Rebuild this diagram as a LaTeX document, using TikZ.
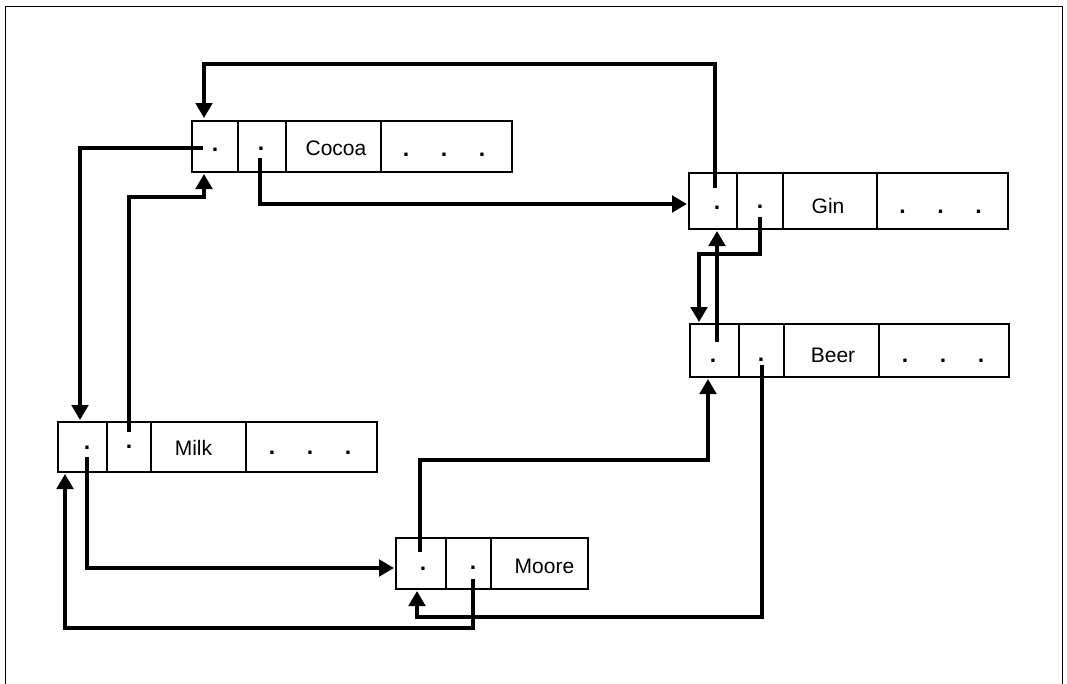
\documentclass[tikz,border=0pt]{standalone}
\usepackage{fontspec}
\setmainfont{Liberation Sans}
\usetikzlibrary{arrows.meta}
\begin{document}
\begin{tikzpicture}[x=1pt,y=-1pt,
  cell/.style={draw,line width=1.9pt,inner sep=0pt,outer sep=0pt},
  link/.style={line width=3.5pt,-{Triangle[length=15pt,width=16.5pt]}},
  lbl/.style={inner sep=0pt,font=\fontsize{21}{24}\selectfont},
  dotmark/.style={inner sep=0pt,anchor=base,font=\fontsize{23}{24}\selectfont\bfseries}]
\useasboundingbox (0,0) rectangle (1067,683);
\draw[line width=1.4pt] (5.5,700) -- (5.5,6.5) -- (1062.5,6.5) -- (1062.5,700);
% Cocoa
\node[cell,minimum width=46pt,minimum height=51pt] (c1) at (215,146.5) {};
\node[cell,minimum width=48pt,minimum height=51pt] (c2) at (262,146.5) {};
\node[cell,minimum width=95pt,minimum height=51pt] (c3) at (333.5,146.5) {};
\node[cell,minimum width=131pt,minimum height=51pt] (c4) at (446.5,146.5) {};
\node[lbl] (cl) at (336,148.5) {Cocoa};
\node[dotmark] (c1d) at (215,151) {.};
\node[dotmark] (c2d) at (261,150) {.};
\node[dotmark] (c4d) at (444,156) {.\hspace{31.6pt}.\hspace{31.6pt}.};
% Gin
\node[cell,minimum width=48pt,minimum height=56pt] (g1) at (713,201) {};
\node[cell,minimum width=46pt,minimum height=56pt] (g2) at (760,201) {};
\node[cell,minimum width=94pt,minimum height=56pt] (g3) at (830,201) {};
\node[cell,minimum width=131pt,minimum height=56pt] (g4) at (942.5,201) {};
\node[lbl] (gl) at (828,205.5) {Gin};
\node[dotmark] (g1d) at (717,209) {.};
\node[dotmark] (g2d) at (760,208) {.};
\node[dotmark] (g4d) at (940.5,213) {.\hspace{31.6pt}.\hspace{31.6pt}.};
% Beer
\node[cell,minimum width=49pt,minimum height=53pt] (b1) at (714.5,350.5) {};
\node[cell,minimum width=45pt,minimum height=53pt] (b2) at (761.5,350.5) {};
\node[cell,minimum width=95pt,minimum height=53pt] (b3) at (831.5,350.5) {};
\node[cell,minimum width=130pt,minimum height=53pt] (b4) at (944,350.5) {};
\node[lbl] (bl) at (833,355) {Beer};
\node[dotmark] (b1d) at (713,362) {.};
\node[dotmark] (b2d) at (761,361) {.};
\node[dotmark] (b4d) at (943,362) {.\hspace{31.6pt}.\hspace{31.6pt}.};
% Milk
\node[cell,minimum width=49pt,minimum height=50pt] (m1) at (82.5,447) {};
\node[cell,minimum width=44pt,minimum height=50pt] (m2) at (129,447) {};
\node[cell,minimum width=95pt,minimum height=50pt] (m3) at (198.5,447) {};
\node[cell,minimum width=131pt,minimum height=50pt] (m4) at (311.5,447) {};
\node[lbl] (ml) at (193.5,448) {Milk};
\node[dotmark] (m1d) at (87,449) {.};
\node[dotmark] (m2d) at (129,448) {.};
\node[dotmark] (m4d) at (310,454) {.\hspace{31.6pt}.\hspace{31.6pt}.};
% Moore
\node[cell,minimum width=50pt,minimum height=51pt] (o1) at (421,563.5) {};
\node[cell,minimum width=45pt,minimum height=51pt] (o2) at (468.5,563.5) {};
\node[cell,minimum width=97pt,minimum height=51pt] (o3) at (539.5,563.5) {};
\node[lbl] (ol) at (544.5,566) {Moore};
\node[dotmark] (o1d) at (423,570) {.};
\node[dotmark] (o2d) at (473,569) {.};
% connector start points
\coordinate (s1) at (715,188);
\coordinate (s2) at (203,148);
\coordinate (s3) at (129,432);
\coordinate (s4) at (260,158);
\coordinate (s5) at (760,217);
\coordinate (s6) at (717,342);
\coordinate (s7) at (762,365);
\coordinate (s8) at (420,552);
\coordinate (s9) at (473,579);
\coordinate (s10) at (87,457);
% connectors
\draw[link] (s1) -- (715,64) -- (204,64) -- ([xshift=-11pt,yshift=3pt]c1.north);
\draw[link] (s2) -- (80,148) -- ([xshift=-2.5pt,yshift=2pt]m1.north);
\draw[link] (s3) -- (129,197) -- (204,197) -- ([xshift=-11pt,yshift=-2pt]c1.south);
\draw[link] (s4) -- (260,204) -- ([xshift=-2pt,yshift=-3pt]g1.west);
\draw[link] (s5) -- (760,254) -- (699,254) -- ([xshift=-15.5pt,yshift=2pt]b1.north);
\draw[link] (s6) -- ([xshift=4pt,yshift=-2pt]g1.south);
\draw[link] (s7) -- (762,617) -- (417,617) -- ([xshift=-4pt,yshift=-2pt]o1.south);
\draw[link] (s8) -- (420,460) -- (708,460) -- ([xshift=-6.5pt,yshift=-2pt]b1.south);
\draw[link] (s9) -- (473,628) -- (65,628) -- ([xshift=-17.5pt,yshift=-2pt]m1.south);
\draw[link] (s10) -- (87,568) -- ([xshift=-2pt,yshift=-4.5pt]o1.west);
\end{tikzpicture}
\end{document}
